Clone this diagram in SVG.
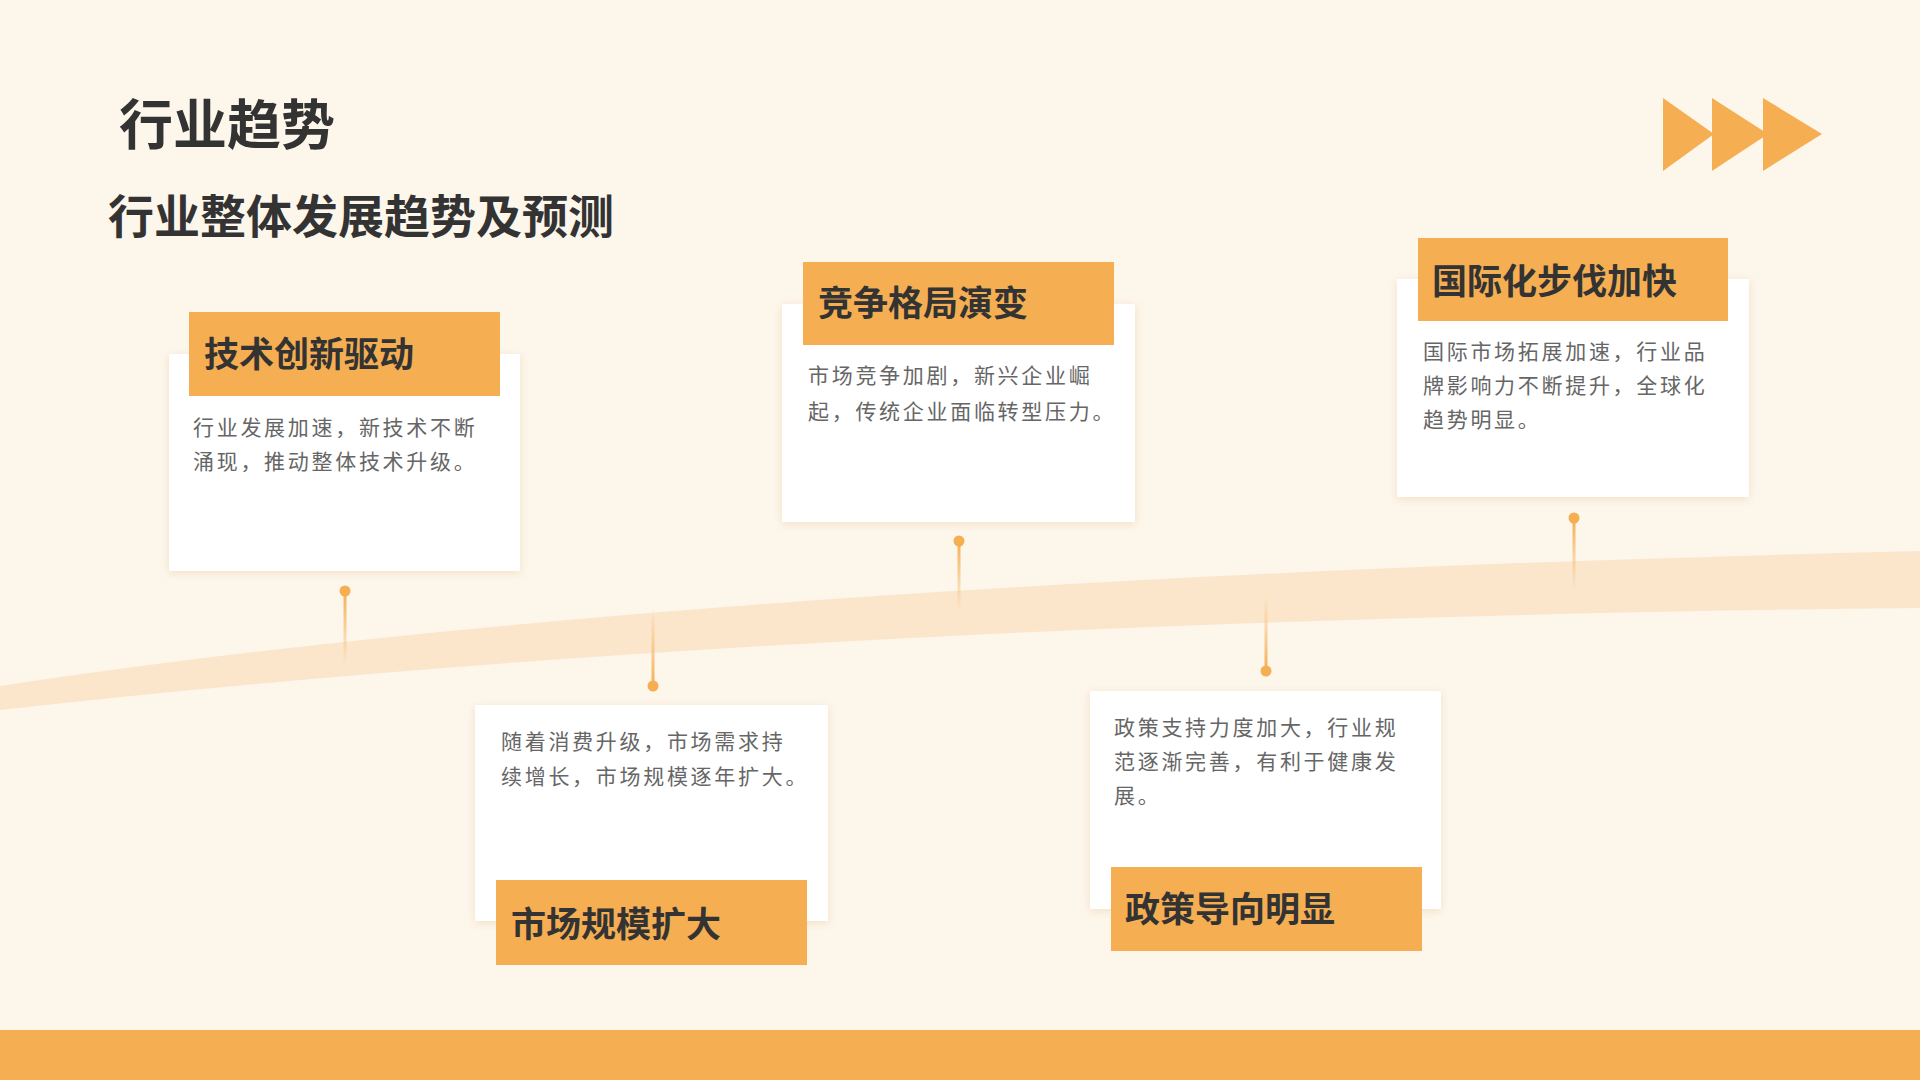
<svg xmlns="http://www.w3.org/2000/svg" width="1920" height="1080" viewBox="0 0 1920 1080">
<defs>
<style>
.card{fill:#fff;filter:url(#sh)}
.lab{fill:#f5ae52}
.lt{font-family:"Noto Sans CJK SC",sans-serif;font-weight:bold;font-size:35px;fill:#333}
.bt{font-family:"Noto Sans CJK SC",sans-serif;font-size:21px;fill:#666;letter-spacing:2.7px}
.dot{fill:#f5ae52}
</style>
<filter id="sh" x="-10%" y="-10%" width="120%" height="120%"><feDropShadow dx="0" dy="2" stdDeviation="4" flood-color="#e8c9a0" flood-opacity="0.5"/></filter>
<linearGradient id="gd" x1="0" y1="0" x2="0" y2="1"><stop offset="0" stop-color="#f5ae52"/><stop offset="1" stop-color="#f5ae52" stop-opacity="0"/></linearGradient>
<linearGradient id="gu" x1="0" y1="1" x2="0" y2="0"><stop offset="0" stop-color="#f5ae52"/><stop offset="1" stop-color="#f5ae52" stop-opacity="0"/></linearGradient>
</defs>
<rect width="1920" height="1080" fill="#fdf6eb"/>
<path d="M0 686 Q700 580 1920 551 L1920 608 Q800 620 0 710 Z" fill="#fbe6cc"/>
<rect y="1030" width="1920" height="50" fill="#f5ae52"/>
<g fill="#f5ae52"><polygon points="1663,98 1714,134 1663,171"/><polygon points="1712,98 1768,134 1712,171"/><polygon points="1763,98 1822,134 1763,171"/></g>
<text x="119" y="145" font-family="Noto Sans CJK SC,sans-serif" font-weight="bold" font-size="54" fill="#333">行业趋势</text>
<text x="108" y="233" font-family="Noto Sans CJK SC,sans-serif" font-weight="bold" font-size="46" fill="#333">行业整体发展趋势及预测</text>
<g id="connectors">
<rect x="343.5" y="591" width="3" height="76" fill="url(#gd)"/><circle class="dot" cx="345" cy="591" r="5.5"/>
<rect x="651.5" y="609" width="3" height="77" fill="url(#gu)"/><circle class="dot" cx="653" cy="686" r="5.5"/>
<rect x="957.5" y="541" width="3" height="71" fill="url(#gd)"/><circle class="dot" cx="959" cy="541" r="5.5"/>
<rect x="1264.5" y="596" width="3" height="75" fill="url(#gu)"/><circle class="dot" cx="1266" cy="671" r="5.5"/>
<rect x="1572.5" y="518" width="3" height="73" fill="url(#gd)"/><circle class="dot" cx="1574" cy="518" r="5.5"/>
</g>
<g id="n1"><rect class="card" x="169" y="354" width="351" height="217"/><rect class="lab" x="189" y="312" width="311" height="84"/><text class="lt" x="204" y="367">技术创新驱动</text><text class="bt" x="193" y="435">行业发展加速，新技术不断</text><text class="bt" x="193" y="469">涌现，推动整体技术升级。</text></g>
<g id="n2"><rect class="card" x="475" y="705" width="353" height="216"/><rect class="lab" x="496" y="880" width="311" height="85"/><text class="lt" x="511" y="937">市场规模扩大</text><text class="bt" x="501" y="749">随着消费升级，市场需求持</text><text class="bt" x="501" y="784">续增长，市场规模逐年扩大。</text></g>
<g id="n3"><rect class="card" x="782" y="304" width="353" height="218"/><rect class="lab" x="803" y="262" width="311" height="83"/><text class="lt" x="818" y="316">竞争格局演变</text><text class="bt" x="808" y="383">市场竞争加剧，新兴企业崛</text><text class="bt" x="808" y="419">起，传统企业面临转型压力。</text></g>
<g id="n4"><rect class="card" x="1090" y="691" width="351" height="218"/><rect class="lab" x="1111" y="867" width="311" height="84"/><text class="lt" x="1125" y="922">政策导向明显</text><text class="bt" x="1114" y="735">政策支持力度加大，行业规</text><text class="bt" x="1114" y="769">范逐渐完善，有利于健康发</text><text class="bt" x="1114" y="803">展。</text></g>
<g id="n5"><rect class="card" x="1397" y="279" width="352" height="218"/><rect class="lab" x="1418" y="238" width="310" height="83"/><text class="lt" x="1432" y="294">国际化步伐加快</text><text class="bt" x="1423" y="359">国际市场拓展加速，行业品</text><text class="bt" x="1423" y="393">牌影响力不断提升，全球化</text><text class="bt" x="1423" y="427">趋势明显。</text></g>
</svg>
